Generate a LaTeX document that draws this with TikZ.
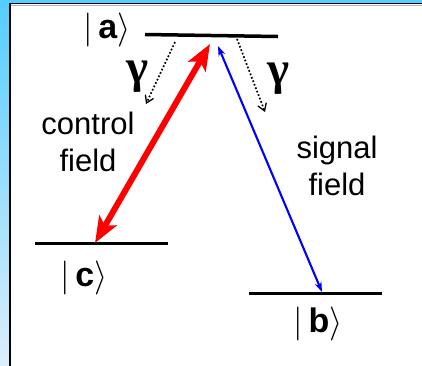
\RequirePackage{fix-cm}
\documentclass[tikz,border=0pt]{standalone}
\usepackage{amsmath}
\usepackage{fontspec}
\setmainfont{Liberation Sans}
\newfontfamily\gamfont{Liberation Serif}
\usetikzlibrary{arrows.meta}
\definecolor{bordtop}{RGB}{85,205,255}
\definecolor{bordbot}{RGB}{220,238,252}
\definecolor{sigblue}{RGB}{0,0,255}
\begin{document}
\begin{tikzpicture}[x=1pt,y=-1pt,
  level/.style={line width=3.5pt},
  lbl/.style={inner sep=0pt,font=\fontsize{34}{40}\selectfont},
  fieldtxt/.style={inner sep=0pt,align=center,font=\fontsize{31}{37}\selectfont},
  gam/.style={inner sep=0pt,font=\gamfont\bfseries\fontsize{47}{50}\selectfont},
  decay/.style={dotted,line width=1.7pt,-{Straight Barb[length=7pt,width=9pt,line width=1.3pt]}},
  ctrl/.style={red,line width=6pt,{Stealth[length=26pt,width=20pt,inset=6pt]}-{Stealth[length=26pt,width=20pt,inset=6pt]}},
  sig/.style={sigblue,line width=2.1pt,{Stealth[length=10pt,width=7pt]}-{Stealth[length=10pt,width=7pt]}}
]
\useasboundingbox (0,0) rectangle (422,365);
% frame
\shade[top color=bordtop,bottom color=bordbot] (0,0) rectangle (422,365);
\fill[white] (10,4) rectangle (423,366);
\draw[black,line width=2pt] (9.5,3) -- (9.5,366);
\draw[black,line width=1.5pt] (9,3.5) -- (423,3.5);
\draw[gray!60,line width=1pt] (10.5,5.2) -- (423,5.2);
% labels and rates
\node[gam] (g1) at (137,77) {γ};
\node[gam] (g2) at (278,79) {γ};
\node[lbl] (la) at (107,30) {$|\,$\textbf{a}$\rangle$};
\node[lbl] (lc) at (84,278) {$|\,$\textbf{c}$\rangle$};
\node[lbl] (lb) at (318,324) {$|\,$\textbf{b}$\rangle$};
\node[fieldtxt] (cf) at (88,142) {control\\field};
\node[fieldtxt] (sf) at (337,166) {signal\\field};
% levels
\coordinate (a1) at (145,34.5); \coordinate (a2) at (278,36.5);
\coordinate (c1) at (35,243.5); \coordinate (c2) at (168,243.5);
\coordinate (b1) at (249,293.5); \coordinate (b2) at (382,293.5);
\draw[level] (a1) -- (a2);
\draw[level] (c1) -- (c2);
\draw[level] (b1) -- (b2);
% arrows
\coordinate (rt) at (210,44); \coordinate (rb) at (95,243);
\coordinate (bt) at (218,46); \coordinate (bb) at (322,292);
\draw[ctrl] (rb) -- (rt);
\draw[sig] (bb) -- (bt);
\coordinate (d1s) at (175,42); \coordinate (d1e) at (146,104);
\coordinate (d2s) at (237,39); \coordinate (d2e) at (265,112);
\draw[decay] (d1s) -- (d1e);
\draw[decay] (d2s) -- (d2e);
\end{tikzpicture}
\end{document}
